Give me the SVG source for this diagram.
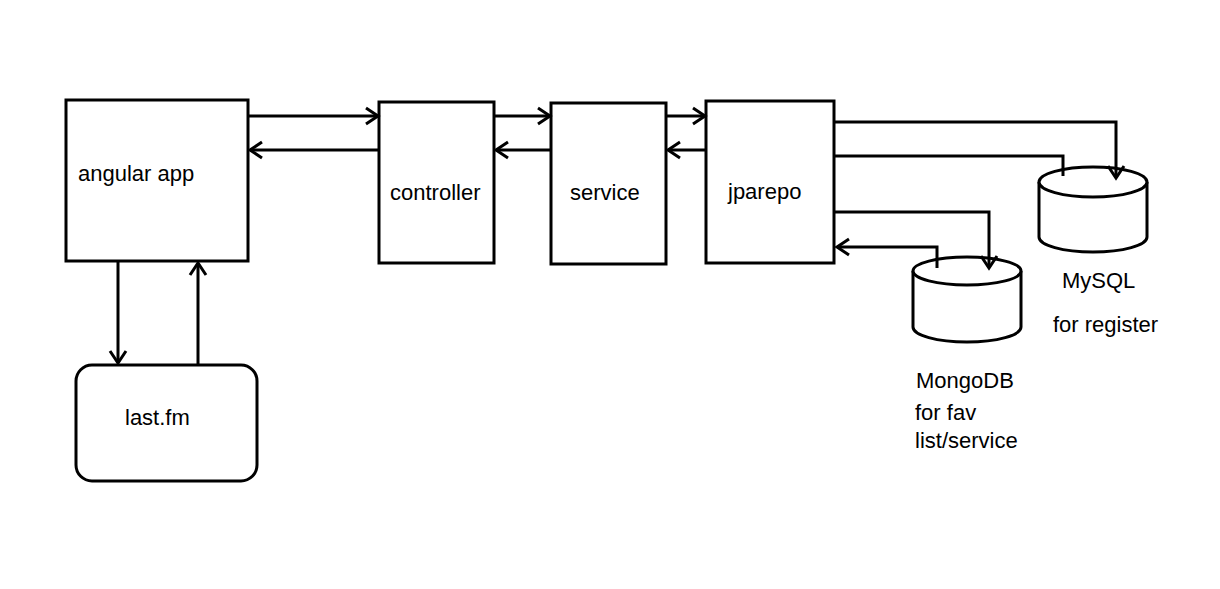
<svg xmlns="http://www.w3.org/2000/svg" width="1220" height="589" viewBox="0 0 1220 589">
<style>
.box{fill:#fff;stroke:#000;stroke-width:3}
.ln{fill:none;stroke:#000;stroke-width:3}
.t{font-family:"Liberation Sans",Arial,sans-serif;font-size:22px;fill:#000}
</style>
<defs>
<marker id="a" markerUnits="userSpaceOnUse" markerWidth="20" markerHeight="20" refX="14" refY="10" orient="auto">
<polyline points="2,2 14,10 2,18" fill="none" stroke="#000" stroke-width="3"/>
</marker>
</defs>
<rect width="1220" height="589" fill="#fff"/>
<g id="angular">
<rect class="box" x="66" y="100" width="182" height="161"/>
<text class="t" x="78" y="181">angular app</text>
</g>
<g id="controller">
<rect class="box" x="379" y="102" width="115" height="161"/>
<text class="t" x="390" y="200">controller</text>
</g>
<g id="service">
<rect class="box" x="551" y="103" width="115" height="161"/>
<text class="t" x="570" y="200">service</text>
</g>
<g id="jparepo">
<rect class="box" x="706" y="101" width="128" height="162"/>
<text class="t" x="728" y="199">jparepo</text>
</g>
<g id="lastfm">
<rect class="box" x="76" y="365" width="181" height="116" rx="16"/>
<text class="t" x="125" y="425">last.fm</text>
</g>
<g id="mysql">
<path class="box" d="M1039,182 V237 A54,15 0 0 0 1147,237 V182"/>
<ellipse class="box" cx="1093" cy="182" rx="54" ry="15"/>
<text class="t" x="1062" y="288">MySQL</text>
<text class="t" x="1053" y="332">for register</text>
</g>
<g id="mongodb">
<path class="box" d="M913,271 V327 A54,15 0 0 0 1021,327 V271"/>
<ellipse class="box" cx="967" cy="271" rx="54" ry="14"/>
<text class="t" x="916" y="388">MongoDB</text>
<text class="t" x="915" y="420">for fav</text>
<text class="t" x="915" y="448">list/service</text>
</g>
<g id="connectors">
<line class="ln" x1="249" y1="116" x2="378" y2="116" marker-end="url(#a)"/>
<line class="ln" x1="379" y1="150" x2="250" y2="150" marker-end="url(#a)"/>
<line class="ln" x1="494" y1="116" x2="550" y2="116" marker-end="url(#a)"/>
<line class="ln" x1="551" y1="150" x2="496" y2="150" marker-end="url(#a)"/>
<line class="ln" x1="666" y1="116" x2="705" y2="116" marker-end="url(#a)"/>
<line class="ln" x1="706" y1="150" x2="668" y2="150" marker-end="url(#a)"/>
<polyline class="ln" points="835,122 1116,122 1116,178" marker-end="url(#a)"/>
<polyline class="ln" points="835,156 1063,156 1063,176"/>
<polyline class="ln" points="835,212 989,212 989,268" marker-end="url(#a)"/>
<polyline class="ln" points="937,268 937,247 837,247" marker-end="url(#a)"/>
<line class="ln" x1="118" y1="261" x2="118" y2="363" marker-end="url(#a)"/>
<line class="ln" x1="198" y1="365" x2="198" y2="263" marker-end="url(#a)"/>
</g>
</svg>
